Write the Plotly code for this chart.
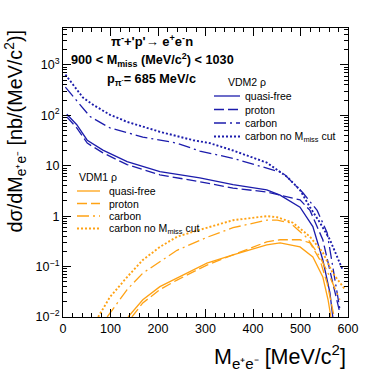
"""Sección eficaz dσ/dM(e+e-) para π- p -> e+ e- n, modelos VDM1 y VDM2 del ρ."""

import plotly.graph_objects as go

AZUL = "#1c1cac"
NARANJA = "#ffa214"

# VDM2 ρ (azul)
x_vdm2_qf = [8, 29, 51, 84, 135, 204, 288, 358, 429, 457, 499, 526, 547, 562, 568]
y_vdm2_qf = [105, 65, 32, 20.4, 12, 7.6, 5.75, 4.2, 3.3, 2.6, 1.5, 0.62, 0.135, 0.030, 0.010]

x_vdm2_p = [8, 29, 51, 84, 135, 204, 288, 358, 429, 451, 499, 520, 547, 568, 583]
y_vdm2_p = [93, 56, 28, 18, 10.5, 6.6, 4.8, 3.6, 3.0, 2.7, 2.1, 1.3, 0.34, 0.047, 0.012]

x_vdm2_c = [5, 36, 57, 99, 168, 240, 288, 358, 429, 463, 505, 535, 556, 583]
y_vdm2_c = [360, 162, 94, 56, 37, 28, 19.5, 14, 9.1, 7.2, 2.9, 1.3, 0.47, 0.014]

x_vdm2_c_sin = [5, 42, 63, 99, 135, 204, 274, 309, 358, 429, 472, 499, 520, 541, 562, 589]
y_vdm2_c_sin = [640, 224, 162, 102, 74, 47, 32, 28, 20, 11.5, 6.0, 3.3, 1.5, 0.74, 0.34, 0.085]

# VDM1 ρ (naranja)
x_vdm1_qf = [137, 168, 204, 240, 274, 303, 358, 429, 457, 499, 526, 547, 558, 564]
y_vdm1_qf = [0.010, 0.022, 0.040, 0.059, 0.085, 0.117, 0.17, 0.27, 0.295, 0.245, 0.155, 0.062, 0.022, 0.010]

x_vdm1_p = [145, 168, 204, 240, 303, 358, 429, 457, 499, 520, 541, 556, 571]
y_vdm1_p = [0.010, 0.019, 0.035, 0.054, 0.107, 0.17, 0.31, 0.34, 0.34, 0.295, 0.135, 0.047, 0.010]

x_vdm1_c = [93, 135, 168, 204, 240, 303, 358, 429, 451, 478, 514, 541, 562, 583]
y_vdm1_c = [0.010, 0.035, 0.074, 0.125, 0.21, 0.38, 0.59, 0.83, 0.83, 0.74, 0.37, 0.155, 0.062, 0.022]

x_vdm1_c_sin = [74, 99, 135, 168, 204, 240, 274, 303, 358, 429, 451, 484, 520, 547, 568, 594]
y_vdm1_c_sin = [0.010, 0.025, 0.062, 0.135, 0.245, 0.39, 0.49, 0.59, 0.83, 1.0, 0.95, 0.74, 0.39, 0.19, 0.074, 0.035]

y_ticks = [0.01, 0.1, 1, 10, 100, 1000]
y_ticktext = ["10<sup>−2</sup>", "10<sup>−1</sup>", "1", "10", "10<sup>2</sup>", "10<sup>3</sup>"]

ETIQUETAS = ["quasi-free", "proton", "carbon", "carbon no M<sub>miss</sub> cut"]
ESTILOS = ["solid", "10px,4px", "12px,4px,2px,4px", "2px,2px"]
ANCHOS = [1.3, 1.3, 1.3, 1.9]  # el punteado se ve más grueso en el original

series = [
    (x_vdm2_qf, y_vdm2_qf, AZUL, 0), (x_vdm2_p, y_vdm2_p, AZUL, 1),
    (x_vdm2_c, y_vdm2_c, AZUL, 2), (x_vdm2_c_sin, y_vdm2_c_sin, AZUL, 3),
    (x_vdm1_qf, y_vdm1_qf, NARANJA, 0), (x_vdm1_p, y_vdm1_p, NARANJA, 1),
    (x_vdm1_c, y_vdm1_c, NARANJA, 2), (x_vdm1_c_sin, y_vdm1_c_sin, NARANJA, 3),
]

fig = go.Figure()
for xs, ys, color, k in series:
    fig.add_trace(go.Scatter(x=xs, y=ys, mode="lines", showlegend=False,
                             line=dict(color=color, width=ANCHOS[k], dash=ESTILOS[k])))

FUENTE = "Liberation Sans, Arial, sans-serif"

# píxeles del marco -> coordenadas paper
L, R, T, B = 63, 348, 28, 317


def px(x):
    return (x - L) / (R - L)


def py(y):
    return (B - y) / (B - T)


shapes, anots = [], []


def leyenda(titulo, x0, x1, xt, xtit, y_tit, filas, color):
    anots.append(dict(text=titulo, x=px(xtit), y=py(y_tit),
                      xanchor="left", yanchor="middle", font=dict(size=10.5)))
    for k, yy in enumerate(filas):
        shapes.append(dict(type="line", xref="paper", yref="paper", x0=px(x0), x1=px(x1),
                           y0=py(yy), y1=py(yy),
                           line=dict(color=color, width=ANCHOS[k], dash=ESTILOS[k])))
        anots.append(dict(text=ETIQUETAS[k], x=px(xt), y=py(yy), xanchor="left",
                          yanchor="middle", font=dict(size=10.5)))


leyenda("VDM2 ρ", 214, 240, 243, 226, 82, [96, 109.5, 123, 136.5], AZUL)
leyenda("VDM1 ρ", 77, 100, 107, 77, 177, [191, 203.5, 216, 228.5], NARANJA)

anots += [
    dict(text="<b>π<sup>-</sup>+'p'→ e<sup>+</sup>e<sup>-</sup>n</b>", x=px(152), y=py(41),
         xanchor="center", yanchor="middle", font=dict(size=13)),
    dict(text="<b>900 < M<sub>miss</sub> (MeV/c<sup>2</sup>) < 1030</b>", x=px(69), y=py(60),
         xanchor="left", yanchor="middle", font=dict(size=12.7)),
    dict(text="<b>p<sub>π<sup>-</sup></sub>= 685 MeV/c</b>", x=px(105), y=py(80),
         xanchor="left", yanchor="middle", font=dict(size=12.7)),
    dict(text="dσ/dM<sub>e⁺e⁻</sub> [nb/(MeV/c<sup>2</sup>)]", x=px(14), y=1, textangle=-90,
         xanchor="center", yanchor="top", font=dict(size=19.8)),
    dict(text="M<sub>e⁺e⁻</sub> [MeV/c<sup>2</sup>]", x=1, y=py(357),
         xanchor="right", yanchor="middle", font=dict(size=21.5)),
]
for a in anots:
    a.update(xref="paper", yref="paper", showarrow=False)

menores_y = [m * 10 ** e for e in range(-2, 4) for m in range(2, 10)]

fig.update_layout(
    width=374, height=380, margin=dict(l=L, r=374 - R, t=T, b=380 - B),
    paper_bgcolor="white", plot_bgcolor="white",
    font=dict(family=FUENTE, color="black"),
    shapes=shapes, annotations=anots,
    xaxis=dict(range=[0, 600], dtick=100, ticks="inside", ticklen=8, tickcolor="black",
               showline=True, linecolor="black", linewidth=1, mirror="allticks",
               showgrid=False, zeroline=False, tickfont=dict(size=12.5),
               minor=dict(ticks="inside", ticklen=4, dtick=20, tickcolor="black")),
    yaxis=dict(type="log", range=[-2, 3.73], tickmode="array", tickvals=y_ticks,
               ticktext=y_ticktext, ticks="inside", ticklen=8, tickcolor="black",
               showline=True, linecolor="black", linewidth=1, mirror="allticks",
               showgrid=False, zeroline=False, tickfont=dict(size=12.5),
               minor=dict(ticks="inside", ticklen=4, tickmode="array",
                          tickvals=menores_y, tickcolor="black")),
)

# Sin el margen por defecto del <body> para que el gráfico quede en (0, 0).
fig.write_html("out.html", config={"displayModeBar": False},
               post_script="document.body.style.margin='0';")
